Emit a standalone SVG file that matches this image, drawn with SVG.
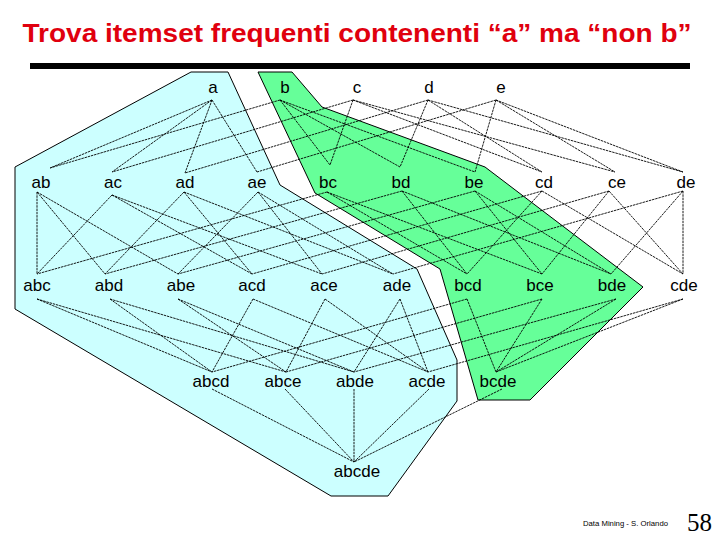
<svg xmlns="http://www.w3.org/2000/svg" width="720" height="540" viewBox="0 0 720 540">
<style>
.t{font-family:"Liberation Sans",Arial,sans-serif;font-size:17px;fill:#000;text-anchor:middle}
.e line{stroke:#000;stroke-width:0.9;stroke-dasharray:2.5 0.8}
</style>
<rect width="720" height="540" fill="#fff"/>
<text x="357" y="42" font-family="'Liberation Sans',Arial,sans-serif" font-weight="bold" font-size="26" fill="#E0000E" text-anchor="middle" textLength="669" lengthAdjust="spacingAndGlyphs">Trova itemset frequenti contenenti “a” ma “non b”</text>
<rect x="30" y="63" width="660" height="6" fill="#000"/>
<g id="regions" stroke="#000" stroke-width="1">
<polygon points="191,72 228,72 280,185 417,269 457,360 457,401 388,496 331,496 15,309 15,167" fill="#CCFFFF"/>
<polygon points="258,72 292,72 322,107 485,167 643,287 530,400 478,400 440,269 315,193" fill="#66FF99"/>
</g>
<g id="connectors" class="e">
<line x1="212" y1="100" x2="50" y2="168"/>
<line x1="280" y1="100" x2="50" y2="168"/>
<line x1="212" y1="100" x2="112" y2="172"/>
<line x1="353" y1="100" x2="112" y2="172"/>
<line x1="212" y1="100" x2="185" y2="173"/>
<line x1="428" y1="100" x2="185" y2="173"/>
<line x1="212" y1="100" x2="257" y2="172"/>
<line x1="496" y1="100" x2="257" y2="172"/>
<line x1="280" y1="100" x2="330" y2="165"/>
<line x1="353" y1="100" x2="330" y2="165"/>
<line x1="280" y1="100" x2="400" y2="167"/>
<line x1="428" y1="100" x2="400" y2="167"/>
<line x1="280" y1="100" x2="475" y2="172"/>
<line x1="496" y1="100" x2="475" y2="172"/>
<line x1="353" y1="100" x2="542" y2="172"/>
<line x1="428" y1="100" x2="542" y2="172"/>
<line x1="353" y1="100" x2="615" y2="172"/>
<line x1="496" y1="100" x2="615" y2="172"/>
<line x1="428" y1="100" x2="683" y2="172"/>
<line x1="496" y1="100" x2="683" y2="172"/>
<!-- row2 -> row3 -->
<line x1="37" y1="192" x2="37" y2="274"/>
<line x1="112" y1="195" x2="37" y2="274"/>
<line x1="327" y1="192" x2="37" y2="274"/>
<line x1="37" y1="192" x2="105" y2="274"/>
<line x1="184" y1="192" x2="105" y2="274"/>
<line x1="402" y1="191" x2="105" y2="274"/>
<line x1="37" y1="192" x2="178" y2="274"/>
<line x1="258" y1="192" x2="178" y2="274"/>
<line x1="475" y1="191" x2="178" y2="274"/>
<line x1="112" y1="195" x2="252" y2="274"/>
<line x1="184" y1="192" x2="252" y2="274"/>
<line x1="542" y1="191" x2="252" y2="274"/>
<line x1="112" y1="195" x2="322" y2="274"/>
<line x1="258" y1="192" x2="322" y2="274"/>
<line x1="609" y1="191" x2="322" y2="274"/>
<line x1="184" y1="192" x2="393" y2="274"/>
<line x1="258" y1="192" x2="393" y2="274"/>
<line x1="683" y1="191" x2="393" y2="274"/>
<line x1="327" y1="192" x2="467" y2="274"/>
<line x1="402" y1="191" x2="467" y2="274"/>
<line x1="542" y1="191" x2="467" y2="274"/>
<line x1="327" y1="192" x2="542" y2="274"/>
<line x1="475" y1="191" x2="542" y2="274"/>
<line x1="609" y1="191" x2="542" y2="274"/>
<line x1="402" y1="191" x2="611" y2="274"/>
<line x1="475" y1="191" x2="611" y2="274"/>
<line x1="683" y1="191" x2="611" y2="274"/>
<line x1="542" y1="191" x2="683" y2="274"/>
<line x1="609" y1="191" x2="683" y2="274"/>
<line x1="683" y1="191" x2="683" y2="274"/>
<!-- row3 -> row4 -->
<line x1="37" y1="299" x2="212" y2="372"/>
<line x1="110" y1="299" x2="212" y2="372"/>
<line x1="253" y1="299" x2="212" y2="372"/>
<line x1="467" y1="299" x2="212" y2="372"/>
<line x1="37" y1="299" x2="286" y2="372"/>
<line x1="178" y1="299" x2="286" y2="372"/>
<line x1="325" y1="299" x2="286" y2="372"/>
<line x1="542" y1="299" x2="286" y2="372"/>
<line x1="110" y1="299" x2="354" y2="372"/>
<line x1="178" y1="299" x2="354" y2="372"/>
<line x1="400" y1="299" x2="354" y2="372"/>
<line x1="616" y1="299" x2="354" y2="372"/>
<line x1="253" y1="299" x2="428" y2="372"/>
<line x1="325" y1="299" x2="428" y2="372"/>
<line x1="400" y1="299" x2="428" y2="372"/>
<line x1="683" y1="299" x2="428" y2="372"/>
<line x1="467" y1="299" x2="496" y2="372"/>
<line x1="542" y1="299" x2="496" y2="372"/>
<line x1="616" y1="299" x2="496" y2="372"/>
<line x1="683" y1="299" x2="496" y2="372"/>
<!-- row4 -> row5 -->
<line x1="212" y1="389" x2="354" y2="462"/>
<line x1="285" y1="389" x2="354" y2="462"/>
<line x1="354" y1="389" x2="354" y2="462"/>
<line x1="429" y1="389" x2="354" y2="462"/>
<line x1="502" y1="389" x2="354" y2="462"/>
</g>
<g id="n-a"><text class="t" x="213" y="93">a</text></g>
<g id="n-b"><text class="t" x="285" y="93">b</text></g>
<g id="n-c"><text class="t" x="357" y="93">c</text></g>
<g id="n-d"><text class="t" x="429" y="93">d</text></g>
<g id="n-e"><text class="t" x="501" y="93">e</text></g>
<g id="n-ab"><text class="t" x="41" y="188">ab</text></g>
<g id="n-ac"><text class="t" x="113" y="188">ac</text></g>
<g id="n-ad"><text class="t" x="185" y="188">ad</text></g>
<g id="n-ae"><text class="t" x="257" y="188">ae</text></g>
<g id="n-bc"><text class="t" x="328" y="188">bc</text></g>
<g id="n-bd"><text class="t" x="401" y="188">bd</text></g>
<g id="n-be"><text class="t" x="474" y="188">be</text></g>
<g id="n-cd"><text class="t" x="544" y="188">cd</text></g>
<g id="n-ce"><text class="t" x="617" y="188">ce</text></g>
<g id="n-de"><text class="t" x="686" y="188">de</text></g>
<g id="n-abc"><text class="t" x="37" y="291">abc</text></g>
<g id="n-abd"><text class="t" x="109" y="291">abd</text></g>
<g id="n-abe"><text class="t" x="181" y="291">abe</text></g>
<g id="n-acd"><text class="t" x="252" y="291">acd</text></g>
<g id="n-ace"><text class="t" x="324" y="291">ace</text></g>
<g id="n-ade"><text class="t" x="397" y="291">ade</text></g>
<g id="n-bcd"><text class="t" x="468" y="291">bcd</text></g>
<g id="n-bce"><text class="t" x="540" y="291">bce</text></g>
<g id="n-bde"><text class="t" x="612" y="291">bde</text></g>
<g id="n-cde"><text class="t" x="684" y="291">cde</text></g>
<g id="n-abcd"><text class="t" x="211" y="387">abcd</text></g>
<g id="n-abce"><text class="t" x="283" y="387">abce</text></g>
<g id="n-abde"><text class="t" x="355" y="387">abde</text></g>
<g id="n-acde"><text class="t" x="427" y="387">acde</text></g>
<g id="n-bcde"><text class="t" x="498" y="387">bcde</text></g>
<g id="n-abcde"><text class="t" x="357" y="477">abcde</text></g>
<text x="583" y="526" font-family="'Liberation Sans',Arial,sans-serif" font-size="8" fill="#000" textLength="85" lengthAdjust="spacingAndGlyphs">Data Mining - S. Orlando</text>
<text x="687" y="531" font-family="'Liberation Serif','Times New Roman',serif" font-size="25" fill="#000">58</text>
</svg>
